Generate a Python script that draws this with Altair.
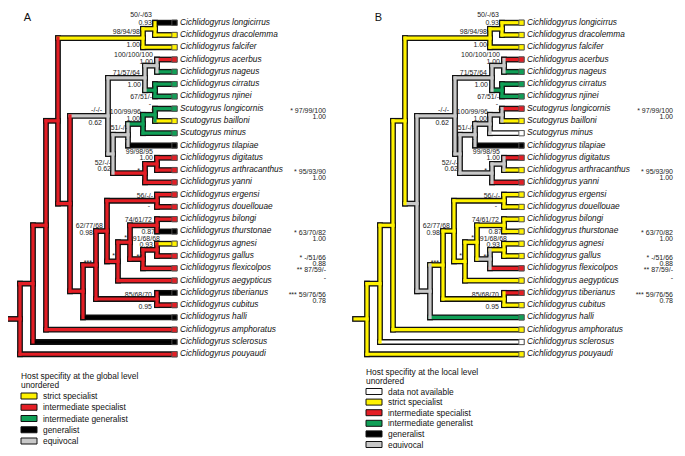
import altair as alt
import pandas as pd

# ---------------- data ----------------
taxa = [
    "Cichlidogyrus longicirrus", "Cichlidogyrus dracolemma", "Cichlidogyrus falcifer",
    "Cichlidogyrus acerbus", "Cichlidogyrus nageus", "Cichlidogyrus cirratus", "Cichlidogyrus njinei",
    "Scutogyrus longicornis", "Scutogyrus bailloni", "Scutogyrus minus", "Cichlidogyrus tilapiae",
    "Cichlidogyrus digitatus", "Cichlidogyrus arthracanthus", "Cichlidogyrus yanni",
    "Cichlidogyrus ergensi", "Cichlidogyrus douellouae", "Cichlidogyrus bilongi", "Cichlidogyrus thurstonae",
    "Cichlidogyrus agnesi", "Cichlidogyrus gallus", "Cichlidogyrus flexicolpos", "Cichlidogyrus aegypticus",
    "Cichlidogyrus tiberianus", "Cichlidogyrus cubitus", "Cichlidogyrus halli", "Cichlidogyrus amphoratus",
    "Cichlidogyrus sclerosus", "Cichlidogyrus pouyaudi",
]
# S strict specialist, IS intermediate specialist, IG intermediate generalist,
# G generalist, E equivocal, NA data not available
tip_global = ["G", "S", "S", "IS", "IG", "IG", "IG", "IG", "S", "IG", "G", "IS", "IS", "IS",
              "IS", "IS", "IS", "G", "S", "IS", "IS", "IS", "G", "IS", "G", "IS", "G", "IS"]
tip_local = ["S", "S", "S", "IS", "IG", "IG", "IG", "IS", "S", "NA", "G", "IS", "S", "IS",
             "S", "S", "S", "S", "S", "S", "IS", "S", "IS", "S", "IG", "S", "NA", "S"]

node_ids = ["root", "n33", "n46", "n58", "nTop", "nLD", "n72", "nGrey", "nAN4", "nAN", "nCN",
            "n114", "n122", "nScut", "nLB", "n145r", "nDA", "n82", "n95", "n107r", "nED",
            "n120", "n130", "nBT", "n145s", "nAG", "nTC"]
node_depth = [12, 25, 38, 50, 135, 147, 62, 100, 137, 149, 147,
              105, 120, 135, 147, 137, 149, 75, 88, 99, 149,
              110, 122, 149, 135, 149, 149]
node_children = [
    ["n33", "pouyaudi"], ["n46", "sclerosus"], ["n58", "amphoratus"], ["nTop", "n72"],
    ["nLD", "falcifer"], ["longicirrus", "dracolemma"], ["nGrey", "n82"], ["nAN4", "n114"],
    ["nAN", "nCN"], ["acerbus", "nageus"], ["cirratus", "njinei"],
    ["n122", "n145r"], ["nScut", "tilapiae"], ["nLB", "minus"], ["longicornis", "bailloni"],
    ["nDA", "yanni"], ["digitatus", "arthracanthus"], ["n95", "halli"], ["n107r", "nTC"],
    ["nED", "n120"], ["ergensi", "douellouae"],
    ["n130", "aegypticus"], ["nBT", "n145s"], ["bilongi", "thurstonae"], ["nAG", "flexicolpos"],
    ["agnesi", "gallus"], ["tiberianus", "cubitus"],
]
node_global = ["IS", "IS", "IS", "IS", "S", "S", "IS", "E", "E", "E", "IG",
               "E", "E", "IG", "IG", "IS", "IS", "IS", "IS", "IS", "IS",
               "IS", "IS", "IS", "IS", "IS", "IS"]
node_local = ["S", "S", "S", "S", "S", "S", "E", "E", "E", "E", "IG",
              "E", "E", "E", "E", "E", "E", "E", "S", "S", "S",
              "S", "S", "S", "E", "S", "S"]

# node support (bootstrap / posterior probability)
sup_node = ["nLD", "nLD", "nTop", "nTop", "nAN", "nAN", "nAN4", "nCN", "nCN", "nCN", "nGrey", "nGrey",
            "nScut", "nScut", "nLB", "n122", "n122", "nDA", "nDA", "n145r", "n114", "n114", "nED", "nED",
            "n107r", "n107r", "n130", "n120", "nBT", "nBT", "nAG", "nAG", "n145s", "n95", "nTC", "nTC"]
sup_text = ["50/-/63", "0.93", "98/94/98", "1.00", "100/100/100", "1.00", "71/57/64", "1.00", "67/51/-", "-",
            "-/-/-", "0.62", "100/99/96", "1.00", "*", "51/-/-", "-", "99/98/95", "1.00", "*", "52/-/-", "0.62",
            "56/-/-", "-", "62/77/68", "0.98", "*", "*", "74/61/72", "0.87", "91/68/68", "0.93", "**", "***",
            "85/68/70", "0.95"]
sup_dx = [-3, -3, -3, -3, -4, -4, -5, -14, -3, -4, -6, -6, -2, -3, -1, -1, -1, -4, -4, -5, -2, -2,
          -4, -7, -4, -14, -3, -3, -5, -2, 3, -4, -1, -4, -5, -5]
sup_dy = [-13.8, -6.3, -5.8, 7, -10.7, -4, -5.3, -5.2, 6.5, 13.5, -5.9, 7.1, -12, -5.5, -4.3, -6.75, 4,
          -11.9, -5.9, -2.6, 9.1, 15.1, -4.8, 5.2, -5.1, 1.9, -4.7, -5.4, -5.3, 6.7, -10.4, -4.4,
          -2.1, -2.5, -4, 7.5]

ann_taxon = ["longicornis", "arthracanthus", "thurstonae", "gallus", "flexicolpos", "tiberianus"]
ann_boot = ["* 97/99/100", "* 95/93/90", "* 63/70/82", "* -/51/66", "** 87/59/-", "*** 59/76/56"]
ann_pp = ["1.00", "1.00", "1.00", "0.88", "-", "0.78"]

state_codes = ["NA", "S", "IS", "IG", "G", "E"]
state_colors = ["#FFFFFF", "#FFF200", "#E41E25", "#10A057", "#000000", "#C8C8C8"]

legA_title = ["Host specifity at the global level", "unordered"]
legA_states = ["S", "IS", "IG", "G", "E"]
legA_labels = ["strict specialist", "intermediate specialist", "intermediate generalist",
               "generalist", "equivocal"]
legB_title = ["Host specifity at the local level", "unordered"]
legB_states = ["NA", "S", "IS", "IG", "G", "E"]
legB_labels = ["data not available", "strict specialist", "intermediate specialist",
               "intermediate generalist", "generalist", "equivocal"]

# ---------------- layout ----------------
W, H = 669, 440
ROW_PX = 12.28
TOP_PX = 14.7
Y_MIN = -TOP_PX / ROW_PX
Y_MAX = Y_MIN + H / ROW_PX
TIP = 166.5
ROOT_START = 0
ANN_X = 318
SHIFT = {"A": 0, "B": 347}


def prow(page_y):
    return (page_y - 8 - TOP_PX) / ROW_PX


epithets = [t.split()[1] for t in taxa]
rows = {e: i for i, e in enumerate(epithets)}
depth = dict(zip(node_ids, node_depth))
children = dict(zip(node_ids, node_children))


def row_of(n):
    if n in rows:
        return rows[n]
    c = children[n]
    return (row_of(c[0]) + row_of(c[-1])) / 2


def dep(n):
    return depth.get(n, TIP)


seg_rows, tip_rows, sup_rows, ann_rows = [], [], [], []
leg_rect, leg_text, letters = [], [], []

for tag, tips, nodes in [("A", tip_global, node_global), ("B", tip_local, node_local)]:
    s = SHIFT[tag]
    tstate = dict(zip(epithets, tips))
    nstate = dict(zip(node_ids, nodes))

    def st(n):
        return tstate[n] if n in tstate else nstate[n]

    r0 = row_of("root")
    seg_rows.append(dict(x=ROOT_START + s, x2=depth["root"] + s, y=r0, y2=r0, state=nstate["root"]))
    for n in node_ids:
        for ch in children[n]:
            r = row_of(ch)
            seg_rows.append(dict(x=depth[n] + s, x2=dep(ch) + s, y=r, y2=r, state=st(ch)))
    for n in node_ids:
        c = children[n]
        seg_rows.append(dict(x=depth[n] + s, x2=depth[n] + s, y=row_of(c[0]), y2=row_of(c[-1]),
                             state=nstate[n]))
    for t, e, stt in zip(taxa, epithets, tips):
        tip_rows.append(dict(x=TIP + s, y=rows[e], name=t, state=stt))
    for n, txt, dx, dy in zip(sup_node, sup_text, sup_dx, sup_dy):
        sup_rows.append(dict(x=depth[n] + dx + s, y=row_of(n) + dy / ROW_PX, text=txt))
    for e, b, p in zip(ann_taxon, ann_boot, ann_pp):
        ann_rows.append(dict(x=ANN_X + s, y=rows[e] + 2 / ROW_PX, text=b))
        ann_rows.append(dict(x=ANN_X + s, y=rows[e] + (8 if p != "-" else 9.5) / ROW_PX, text=p))

    if tag == "A":
        lx, ty, iy, sp, titles, sts, labs = 13, 376, 396, 11.25, legA_title, legA_states, legA_labels
        letters.append(dict(x=19.5 + s, y=prow(18), text="A"))
    else:
        lx, ty, iy, sp, titles, sts, labs = 11, 372, 391.5, 10.6, legB_title, legB_states, legB_labels
        letters.append(dict(x=23.5 + s, y=prow(18), text="B"))
    for k, tt in enumerate(titles):
        leg_text.append(dict(x=lx + s, y=prow(ty + 8.5 * k), text=tt))
    for k, (stt, lab) in enumerate(zip(sts, labs)):
        yc = iy + sp * k
        leg_rect.append(dict(x=lx + s, x2=lx + 16 + s, y=prow(yc - 3), y2=prow(yc + 3), state=stt))
        leg_text.append(dict(x=lx + 22 + s, y=prow(yc), text=lab))

segs = pd.DataFrame(seg_rows)
tipdf = pd.DataFrame(tip_rows)
supdf = pd.DataFrame(sup_rows)
anndf = pd.DataFrame(ann_rows)
legr = pd.DataFrame(leg_rect)
legt = pd.DataFrame(leg_text)
letdf = pd.DataFrame(letters)

xs = alt.Scale(domain=[0, W], nice=False, zero=False)
ys = alt.Scale(domain=[Y_MIN, Y_MAX], reverse=True, nice=False, zero=False)
cs = alt.Scale(domain=state_codes, range=state_colors)


def X(f="x"):
    return alt.X(f"{f}:Q", scale=xs, axis=None)


def Y(f="y"):
    return alt.Y(f"{f}:Q", scale=ys, axis=None)


FONT = "Liberation Sans"

outline = alt.Chart(segs).mark_rule(color="#111111", strokeWidth=5.8, strokeCap="square").encode(
    x=X(), x2="x2:Q", y=Y(), y2="y2:Q")
core = alt.Chart(segs).mark_rule(strokeWidth=3.2, strokeCap="square").encode(
    x=X(), x2="x2:Q", y=Y(), y2="y2:Q", color=alt.Color("state:N", scale=cs, legend=None))
squares = alt.Chart(tipdf).mark_square(size=28, stroke="#555555", strokeWidth=0.9, opacity=1).encode(
    x=X(), y=Y(), color=alt.Color("state:N", scale=cs, legend=None))
names = alt.Chart(tipdf).mark_text(align="left", baseline="middle", dx=5.5, font=FONT,
                                   fontStyle="italic", fontSize=8.3, color="#111111").encode(
    x=X(), y=Y(), text="name:N")
support = alt.Chart(supdf).mark_text(align="right", baseline="middle", font=FONT, fontSize=7,
                                     color="#222222").encode(x=X(), y=Y(), text="text:N")
annot = alt.Chart(anndf).mark_text(align="right", baseline="middle", font=FONT, fontSize=7,
                                   color="#222222").encode(x=X(), y=Y(), text="text:N")
letter = alt.Chart(letdf).mark_text(align="center", baseline="middle", font=FONT, fontSize=11,
                                    color="#111111").encode(x=X(), y=Y(), text="text:N")
lrect = alt.Chart(legr).mark_rect(stroke="#111111", strokeWidth=1).encode(
    x=X(), x2="x2:Q", y=Y(), y2="y2:Q", color=alt.Color("state:N", scale=cs, legend=None))
ltext = alt.Chart(legt).mark_text(align="left", baseline="middle", font=FONT, fontSize=8.4,
                                  color="#111111").encode(x=X(), y=Y(), text="text:N")

chart = alt.layer(outline, core, squares, names, support, annot, letter, lrect, ltext).properties(
    width=W, height=H, padding=0, autosize=alt.AutoSizeParams(type="none")
).configure_view(stroke=None)

chart.save("out.html", embed_options={"renderer": "svg", "actions": False})
